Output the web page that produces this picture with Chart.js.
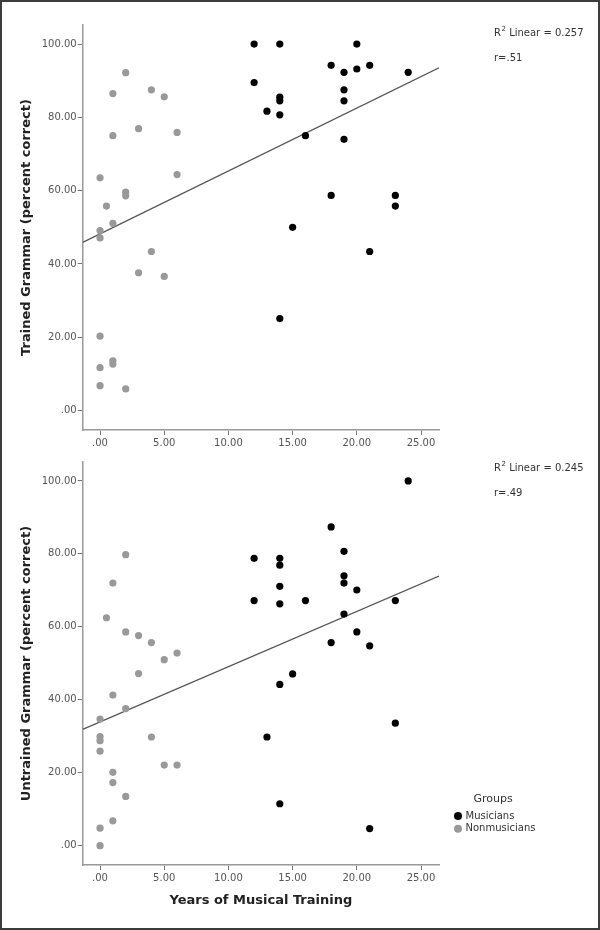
<!DOCTYPE html>
<html>
<head>
<meta charset="utf-8">
<script src="https://cdn.jsdelivr.net/npm/chart.js@4.4.0/dist/chart.umd.min.js"></script>
<style>
  body { margin: 0; background: #fff; }
  #wrap { position: relative; width: 600px; height: 930px; }
  #frame { position: absolute; left: 0; top: 0; width: 600px; height: 930px; border: 2px solid #3c3c3c; box-sizing: border-box; pointer-events: none; }
  canvas { position: absolute; left: 0; }
  #trained { top: 0; }
  #untrained { top: 455px; }
</style>
</head>
<body>
<div id="wrap">
  <canvas id="trained" width="600" height="455"></canvas>
  <canvas id="untrained" width="600" height="475"></canvas>
  <div id="frame"></div>
</div>
<script>
// ticks
const xTicks = [0, 5, 10, 15, 20, 25];
const yTicks = [0, 20, 40, 60, 80, 100];

// trained grammar, musicians
const musYearsT = [12, 14, 20, 12, 18, 19, 20, 21, 24, 19, 19, 14, 14, 13, 14, 16, 19, 18, 23, 23, 15, 21, 14];
const musScoreT = [100, 100, 100, 89.5, 94.2, 92.3, 93.2, 94.2, 92.3, 87.5, 84.5, 85.5, 84.5, 81.7, 80.7, 75.0, 74.0, 58.7, 58.7, 55.8, 50.0, 43.4, 25.1];
// trained grammar, nonmusicians
const nonYearsT = [0, 0.5, 1, 0, 0, 1, 2, 1, 3, 4, 5, 6, 6, 2, 2, 4, 3, 5, 0, 0, 1, 1, 0, 2];
const nonScoreT = [63.5, 55.8, 51.1, 49.1, 47.1, 86.5, 92.2, 75.0, 76.9, 87.5, 85.6, 75.9, 64.4, 59.6, 58.6, 43.4, 37.6, 36.6, 20.3, 11.7, 13.6, 12.7, 6.8, 5.9];
// fit line read at the axis ends
const fitXT = [-1.35, 26.4];
const fitYT = [45.9, 93.5];

// untrained grammar, musicians
const musYearsU = [24, 18, 19, 12, 14, 14, 19, 19, 20, 14, 12, 14, 16, 23, 19, 20, 18, 21, 15, 14, 23, 13, 14, 21];
const musScoreU = [100, 87.4, 80.7, 78.8, 78.8, 76.9, 74.0, 72.0, 70.1, 71.1, 67.2, 66.3, 67.2, 67.2, 63.5, 58.6, 55.7, 54.8, 47.1, 44.2, 33.6, 29.8, 11.5, 4.7];
// untrained grammar, nonmusicians
const nonYearsU = [2, 1, 0.5, 2, 3, 4, 5, 6, 3, 1, 2, 0, 4, 0, 0, 0, 5, 6, 1, 1, 2, 1, 0, 0];
const nonScoreU = [79.8, 72.0, 62.5, 58.6, 57.6, 55.7, 51.0, 52.8, 47.2, 41.3, 37.6, 34.7, 29.8, 29.9, 28.8, 25.9, 22.1, 22.1, 20.1, 17.3, 13.5, 6.8, 4.8, 0];
const fitXU = [-1.35, 26.4];
const fitYU = [31.9, 73.9];

const FONT = '"DejaVu Sans", Verdana, sans-serif';

function pts(xs, ys) {
    return xs.map((x, i) => ({x: x, y: ys[i]}));
}

function fmt(v) {
    return v === 0 ? '.00' : v.toFixed(2);
}

// little text notes (R2, r, legend) drawn after the chart
const notesPlugin = {
    id: 'notes',
    afterDraw(chart, args, opts) {
        const ctx = chart.ctx;
        ctx.save();
        ctx.fillStyle = '#333';
        ctx.textBaseline = 'middle';
        ctx.textAlign = 'left';
        ctx.font = '10px ' + FONT;
        ctx.fillText('R', opts.x, opts.y);
        const rw = ctx.measureText('R').width;
        ctx.font = '7px ' + FONT;
        ctx.fillText('2', opts.x + rw + 0.5, opts.y - 4);
        ctx.font = '10px ' + FONT;
        ctx.fillText(' Linear = ' + opts.r2, opts.x + rw + 5, opts.y);
        ctx.fillText('r=' + opts.r, opts.x, opts.y + 25);

        if (opts.legend) {
            const lg = opts.legend;
            ctx.textAlign = 'center';
            ctx.font = '11px ' + FONT;
            ctx.fillText(lg.title, lg.x + 35, lg.y);
            ctx.textAlign = 'left';
            ctx.font = '10px ' + FONT;
            lg.items.forEach((it, i) => {
                const yy = lg.y + 17 + i * 12.7;
                ctx.fillStyle = it.color;
                ctx.beginPath();
                ctx.arc(lg.x, yy, 4, 0, Math.PI * 2);
                ctx.fill();
                ctx.fillStyle = '#333';
                ctx.fillText(it.label, lg.x + 7.5, yy);
            });
        }
        ctx.restore();
    }
};

function makeChart(id, cfg) {
    const ctx = document.getElementById(id).getContext('2d');
    return new Chart(ctx, {
        type: 'scatter',
        data: {
            datasets: [
                {
                    label: 'Musicians',
                    data: pts(cfg.musX, cfg.musY),
                    backgroundColor: '#000',
                    borderWidth: 0,
                    pointRadius: 3.6,
                },
                {
                    label: 'Nonmusicians',
                    data: pts(cfg.nonX, cfg.nonY),
                    backgroundColor: '#999',
                    borderWidth: 0,
                    pointRadius: 3.6,
                },
                {
                    type: 'line',
                    label: 'fit',
                    data: pts(cfg.fitX, cfg.fitY),
                    borderColor: '#555',
                    borderWidth: 1.2,
                    pointRadius: 0,
                    fill: false,
                },
            ],
        },
        options: {
            responsive: false,
            animation: false,
            events: [],
            layout: {
                padding: {left: 0, right: 161, top: cfg.top, bottom: 0},
            },
            plugins: {
                legend: {display: false},
                tooltip: {enabled: false},
                notes: cfg.notes,
            },
            scales: {
                x: {
                    type: 'linear',
                    min: -1.35,
                    max: 26.4,
                    afterBuildTicks: s => { s.ticks = xTicks.map(v => ({value: v})); },
                    afterFit: s => { s.height = cfg.xh; },
                    ticks: {
                        callback: v => fmt(v),
                        autoSkip: false,
                        maxRotation: 0,
                        padding: 2,
                        color: '#555',
                        font: {family: FONT, size: 10},
                    },
                    grid: {drawOnChartArea: false, drawTicks: true, tickLength: 5, color: '#777'},
                    border: {display: true, color: '#999', width: 1.5},
                    title: {
                        display: !!cfg.xTitle,
                        text: cfg.xTitle || '',
                        color: '#222',
                        font: {family: FONT, size: 13, weight: 'bold'},
                        padding: {top: 0, bottom: 22},
                    },
                },
                y: {
                    min: -5.3,
                    max: 105.2,
                    afterBuildTicks: s => { s.ticks = yTicks.map(v => ({value: v})); },
                    afterFit: s => { s.width = 82.7; },
                    ticks: {
                        callback: v => fmt(v),
                        autoSkip: false,
                        padding: 1,
                        color: '#555',
                        font: {family: FONT, size: 10},
                    },
                    grid: {drawOnChartArea: false, drawTicks: true, tickLength: 5, color: '#777'},
                    border: {display: true, color: '#999', width: 1.5},
                    title: {
                        display: true,
                        text: cfg.yTitle,
                        color: '#222',
                        font: {family: FONT, size: 13, weight: 'bold'},
                        padding: {top: 18.5, bottom: 0},
                    },
                },
            },
        },
        plugins: [notesPlugin],
    });
}

makeChart('trained', {
    musX: musYearsT, musY: musScoreT,
    nonX: nonYearsT, nonY: nonScoreT,
    fitX: fitXT, fitY: fitYT,
    top: 25, xh: 25,
    yTitle: 'Trained Grammar (percent correct)',
    notes: {x: 494, y: 33, r2: '0.257', r: '.51'},
});

makeChart('untrained', {
    musX: musYearsU, musY: musScoreU,
    nonX: nonYearsU, nonY: nonScoreU,
    fitX: fitXU, fitY: fitYU,
    top: 5, xh: 65,
    yTitle: 'Untrained Grammar (percent correct)',
    xTitle: 'Years of Musical Training',
    notes: {
        x: 494, y: 468 - 455, r2: '0.245', r: '.49',
        legend: {
            title: 'Groups', x: 458, y: 799 - 455,
            items: [
                {label: 'Musicians', color: '#000'},
                {label: 'Nonmusicians', color: '#999'},
            ],
        },
    },
});
</script>
</body>
</html>
